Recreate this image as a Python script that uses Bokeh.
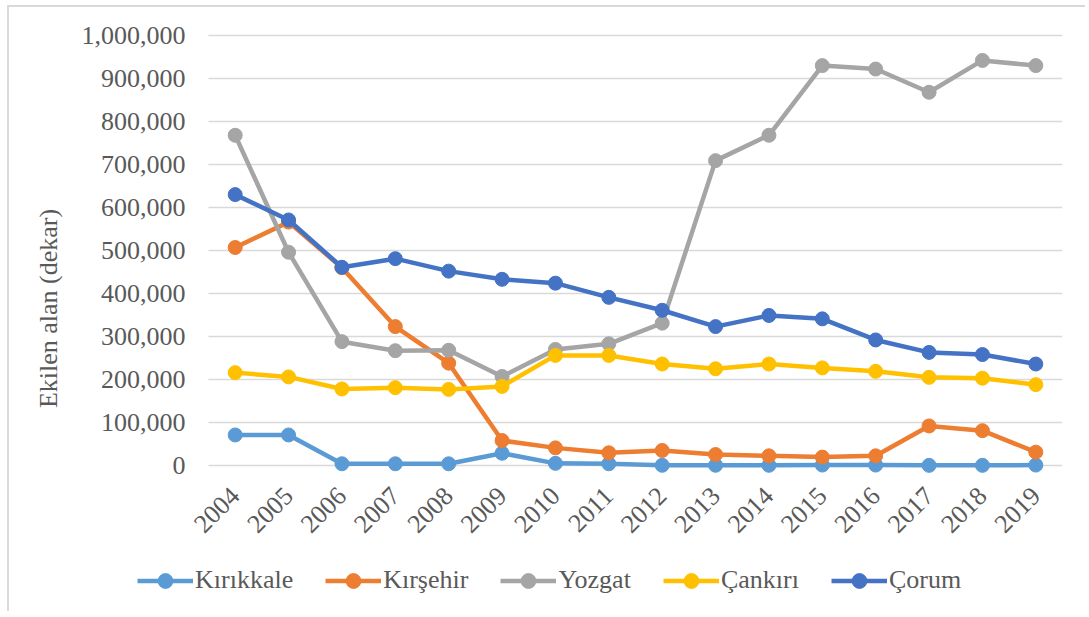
from bokeh.plotting import figure
from bokeh.models import (Range1d, FixedTicker, NumeralTickFormatter,
                          Legend, LegendItem, ColumnDataSource)
from bokeh.embed import file_html
from bokeh.resources import INLINE
import math

years = [2004, 2005, 2006, 2007, 2008, 2009, 2010, 2011,
         2012, 2013, 2014, 2015, 2016, 2017, 2018, 2019]

kirikkale = [71000, 71000, 4000, 4000, 4000, 28500, 5000, 4000,
             500, 500, 500, 1000, 1000, 300, 300, 1000]
kirsehir = [507000, 566000, 460000, 323000, 238000, 58000, 41000, 29500,
            35000, 25500, 22500, 19500, 22500, 92000, 81000, 31000]
yozgat = [768000, 496000, 288000, 267000, 268000, 207000, 270000, 283000,
          331000, 709000, 768000, 930000, 922000, 868000, 942000, 930000]
cankiri = [216000, 206000, 178000, 181000, 177000, 184000, 256000, 256000,
           236000, 225000, 236000, 227000, 219000, 205000, 203000, 188000]
corum = [630000, 571000, 461000, 481000, 452000, 433000, 424000, 391000,
         361000, 323000, 349000, 341000, 292000, 263000, 258000, 236000]

series_names = ["Kırıkkale", "Kırşehir", "Yozgat", "Çankırı", "Çorum"]
series_values = [kirikkale, kirsehir, yozgat, cankiri, corum]
series_colors = ["#5B9BD5", "#ED7D31", "#A5A5A5", "#FFC000", "#4472C4"]

y_ticks = [0, 100000, 200000, 300000, 400000, 500000, 600000, 700000,
           800000, 900000, 1000000]

FONT = "Liberation Serif"
TXT = "#595959"

# plot-area extents in data units (categories are one year wide)
X_LEFT = years[0] - 0.5
X_RIGHT = years[-1] + 0.5
CAT_PX = 53.375            # pixels per category
upx = 1000000 / 430.0      # data units per pixel on y

# the frame covers the whole canvas left of / above / below the plot area so
# that the axis labels and the legend (drawn inside the frame) are not clipped
p = figure(
    width=1078, height=606,
    x_range=Range1d(X_LEFT - 199 / CAT_PX, X_RIGHT),
    y_range=Range1d(-144 * upx, 1000000 + 28 * upx),
    output_backend="svg", toolbar_location=None, title=None,
    min_border_left=0, min_border_right=25, min_border_top=0, min_border_bottom=4,
)
# chart-area border: only its left and top edges are visible in the reference
p.styles = {"margin-left": "7px", "margin-top": "5px",
            "border-left": "2px solid #d9d9d9", "border-top": "2px solid #d9d9d9"}
p.outline_line_color = None
p.background_fill_color = "white"
p.border_fill_color = "white"

p.xgrid.visible = False
g = p.ygrid[0]
g.grid_line_color = "#d9d9d9"
g.grid_line_width = 1.5
if "cross_bounds" in g.properties():
    g.cross_bounds = (X_LEFT, X_RIGHT)

xa = p.xaxis[0]
ya = p.yaxis[0]
xa.fixed_location = 0
ya.fixed_location = X_LEFT
xa.ticker = FixedTicker(ticks=years)
ya.ticker = FixedTicker(ticks=y_ticks)
ya.formatter = NumeralTickFormatter(format="0,0")
xa.formatter = NumeralTickFormatter(format="0")
for ax in (xa, ya):
    ax.axis_line_color = None
    ax.major_tick_line_color = None
    ax.minor_tick_line_color = None
    ax.major_tick_out = 0
    ax.major_tick_in = 0
    ax.minor_tick_out = 0
    ax.minor_tick_in = 0
    ax.major_label_text_font = FONT
    ax.major_label_text_font_size = "26px"
    ax.major_label_text_color = TXT

ya.major_label_standoff = 23
ya.axis_label = "Ekilen alan (dekar)"
ya.axis_label_text_font = FONT
ya.axis_label_text_font_size = "26px"
ya.axis_label_text_font_style = "normal"
ya.axis_label_text_color = TXT
ya.axis_label_standoff = 16

xa.major_label_orientation = math.pi / 4
xa.major_label_standoff = 26

items = []
for name, vals, col in zip(series_names, series_values, series_colors):
    src = ColumnDataSource(dict(x=years, y=vals))
    lr = p.line("x", "y", source=src, line_color=col, line_width=4.5, line_join="round")
    sr = p.scatter("x", "y", source=src, size=14, fill_color=col, line_color=col,
                   marker="circle")
    items.append(LegendItem(label=name, renderers=[lr, sr]))

legend = Legend(items=items, orientation="horizontal", location=(128, 10.5),
                glyph_width=56, glyph_height=37, label_height=37,
                label_standoff=2, spacing=32, padding=0, margin=0,
                label_text_font=FONT, label_text_font_size="26px",
                label_text_color=TXT, border_line_color=None,
                background_fill_alpha=0)
p.add_layout(legend, "center")

open("out.html", "w").write(file_html(p, INLINE))
